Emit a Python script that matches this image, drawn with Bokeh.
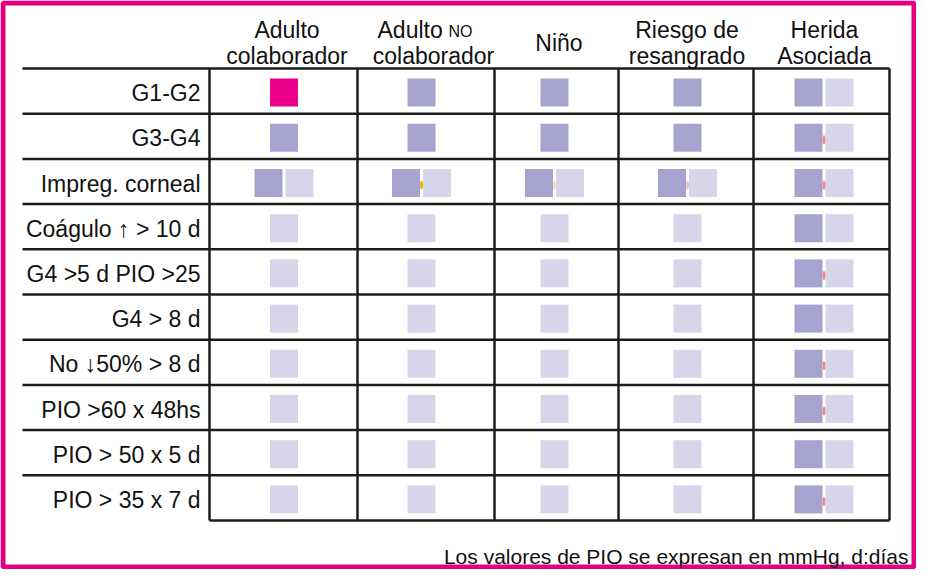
from bokeh.plotting import figure
from bokeh.models import Range1d
from bokeh.core.properties import value
from bokeh.embed import file_html
from bokeh.resources import INLINE

# ---------------- data ----------------
row_labels = ["G1-G2", "G3-G4", "Impreg. corneal", "Coágulo ↑ > 10 d",
              "G4 >5 d PIO >25", "G4 > 8 d", "No ↓50% > 8 d",
              "PIO >60 x 48hs", "PIO > 50 x 5 d", "PIO > 35 x 7 d"]
col_line1 = ["Adulto", "Adulto", "", "Riesgo de", "Herida"]
col_line2 = ["colaborador", "colaborador", "Niño", "resangrado", "Asociada"]
# cell kinds: M = magenta square, D = dark square, L = light square, DL = dark + light pair
cells = [
    ["M", "D", "D", "D", "DL"],
    ["D", "D", "D", "D", "DL"],
    ["DL", "DL", "DL", "DL", "DL"],
    ["L", "L", "L", "L", "DL"],
    ["L", "L", "L", "L", "DL"],
    ["L", "L", "L", "L", "DL"],
    ["L", "L", "L", "L", "DL"],
    ["L", "L", "L", "L", "DL"],
    ["L", "L", "L", "L", "DL"],
    ["L", "L", "L", "L", "DL"],
]
# small marks between paired squares: (row, col, kind)
mark_rows = [2, 2, 2, 1, 2, 4, 6, 7, 9]
mark_cols = [1, 2, 3, 4, 4, 4, 4, 4, 4]
mark_kind = ["orange", "orange_faint", "pink_faint", "red", "red", "red", "red", "red", "red"]
footer = "Los valores de PIO se expresan en mmHg, d:días"

# ---------------- layout ----------------
W, H = 916, 569
col_edges = [209, 357, 494, 618, 753, 889]
label_left = 22
top_line = 68
row_h = 45.2
n_rows = len(row_labels)
row_edges = [top_line + i * row_h for i in range(n_rows + 1)]
cell_cx = [283.5, 421, 554, 687, 823.5]
head_cx = [286.5, 433, 558.5, 686.5, 824]
SQ = 28
GAP = 3
TDY = -8  # text baseline correction (for ~23px text)

PINK = "#E5007E"
MAGENTA = "#EA008A"
DARK = "#A6A3CE"
LIGHT = "#D7D5EA"
LINE = "#1c1c1c"
TXT = "#111111"
FONT = value("Liberation Sans")
mark_colors = {"orange": "#F5B400", "orange_faint": "#F7D9B0",
               "pink_faint": "#F2C2CC", "red": "#F38A8A"}

p = figure(width=W, height=H, x_range=Range1d(0, W), y_range=Range1d(H, 0),
           output_backend="svg", toolbar_location=None, min_border=0,
           x_axis_location=None, y_axis_location=None)
p.grid.visible = False
p.outline_line_color = None
p.background_fill_color = "white"
p.border_fill_color = "white"

# outer pink frame
p.quad(left=[2.5], right=[W - 2.5], top=[2.5], bottom=[H - 2.5],
       fill_color=None, line_color=PINK, line_width=5)

# squares
sx, sy, sc = [], [], []
for r, row in enumerate(cells):
    cy = (row_edges[r] + row_edges[r + 1]) / 2 + 1.5
    for c, kind in enumerate(row):
        cx = cell_cx[c]
        if kind == "DL":
            sx += [cx - (SQ + GAP) / 2, cx + (SQ + GAP) / 2]
            sy += [cy, cy]
            sc += [DARK, LIGHT]
        else:
            sx.append(cx)
            sy.append(cy)
            sc.append({"M": MAGENTA, "D": DARK, "L": LIGHT}[kind])
p.rect(x=sx, y=sy, width=SQ, height=SQ, fill_color=sc, line_color=None)

# marks in the gap
mx = [cell_cx[c] for c in mark_cols]
my = [(row_edges[r] + row_edges[r + 1]) / 2 + 3.5 for r in mark_rows]
mc = [mark_colors[k] for k in mark_kind]
p.ellipse(x=mx, y=my, width=3, height=9, fill_color=mc, line_color=None)

# grid lines
hx0, hx1, hy = [], [], []
for i, y in enumerate(row_edges):
    if i < n_rows:
        hx0.append(label_left); hx1.append(col_edges[-1]); hy.append(y)
    else:
        hx0.append(col_edges[0]); hx1.append(col_edges[-1]); hy.append(y)
p.segment(x0=hx0, y0=hy, x1=hx1, y1=hy, line_color=LINE, line_width=2.5)
p.segment(x0=col_edges, y0=[row_edges[0]] * len(col_edges), x1=col_edges,
          y1=[row_edges[-1]] * len(col_edges), line_color=LINE, line_width=2.5)

# row labels
ly = [(row_edges[r] + row_edges[r + 1]) / 2 + 10 + TDY for r in range(n_rows)]
p.text(x=[200] * n_rows, y=ly, text=row_labels, text_align="right",
       text_baseline="alphabetic", text_font=FONT, text_font_size="23px",
       text_color=TXT)

# headers
h1x, h1t = [], []
for c in range(5):
    if col_line1[c] and c != 1:
        h1x.append(head_cx[c]); h1t.append(col_line1[c])
p.text(x=h1x, y=[37 + TDY] * len(h1x), text=h1t, text_align="center",
       text_baseline="alphabetic", text_font=FONT, text_font_size="23px",
       text_color=TXT)
# "Adulto NO" with small caps NO
p.text(x=[377], y=[37 + TDY], text=[col_line1[1]], text_align="left",
       text_baseline="alphabetic", text_font=FONT, text_font_size="23px",
       text_color=TXT)
p.text(x=[448], y=[37 + TDY * 16 / 23], text=["NO"], text_align="left",
       text_baseline="alphabetic", text_font=FONT, text_font_size="16px",
       text_color=TXT)
h2y = [(63 if col_line1[c] else 50) + TDY for c in range(5)]
p.text(x=head_cx, y=h2y, text=col_line2, text_align="center",
       text_baseline="alphabetic", text_font=FONT, text_font_size="23px",
       text_color=TXT)

# footer
p.text(x=[908], y=[563 + TDY * 21 / 23], text=[footer], text_align="right",
       text_baseline="alphabetic", text_font=FONT, text_font_size="21px",
       text_color=TXT)

open("out.html", "w").write(file_html(p, INLINE))
